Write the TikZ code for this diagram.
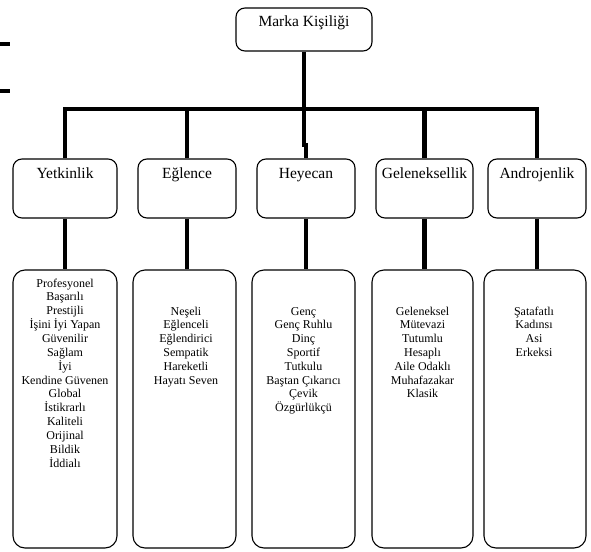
\documentclass[tikz,border=0pt]{standalone}
\usepackage{fontspec}
\setmainfont{Liberation Serif}
\begin{document}
\begin{tikzpicture}[x=1pt,y=-1pt,
  conn/.style={line width=4.3pt},
  box/.style={draw, line width=1.1pt, rounded corners=9pt, inner sep=0pt},
  bigbox/.style={box, rounded corners=12pt},
  lbl/.style={font=\fontsize{15.5}{18}\selectfont, anchor=base, inner sep=0pt},
  lst/.style={font=\fontsize{12}{13.8}\selectfont, anchor=base, inner sep=0pt}]
\useasboundingbox (0,0) rectangle (591,551);

% left dashes
\coordinate (d1a) at (0,44); \coordinate (d1b) at (10,44);
\coordinate (d2a) at (0,91); \coordinate (d2b) at (10,91);
\draw[line width=4pt] (d1a) -- (d1b);
\draw[line width=4pt] (d2a) -- (d2b);

% boxes
\node[box, minimum width=136pt, minimum height=43pt] (top) at (304,29.5) {};
\node[box, minimum width=104pt, minimum height=59pt] (yet1) at (65,188.5) {};
\node[box, minimum width=98pt, minimum height=59pt] (egl1) at (187,188.5) {};
\node[box, minimum width=98pt, minimum height=59pt] (hey1) at (306,188.5) {};
\node[box, minimum width=97pt, minimum height=59pt] (gel1) at (424.5,188.5) {};
\node[box, minimum width=98pt, minimum height=59pt] (and1) at (537,188.5) {};

\node[bigbox, minimum width=104pt, minimum height=278pt] (yet2) at (65,409) {};
\node[bigbox, minimum width=103pt, minimum height=278pt] (egl2) at (184.5,409) {};
\node[bigbox, minimum width=103pt, minimum height=278pt] (hey2) at (303.5,409) {};
\node[bigbox, minimum width=101pt, minimum height=278pt] (gel2) at (422.5,409) {};
\node[bigbox, minimum width=102pt, minimum height=278pt] (and2) at (535,409) {};

% connectors
\coordinate (bar) at (304,109);
\coordinate (jog1) at (304,145);
\coordinate (jog2) at (306,145);
\draw[conn] (top.south) -- (bar);
\draw[conn] (yet1.north) -- (yet1.north |- bar) -- (and1.north |- bar) -- (and1.north);
\draw[conn] (egl1.north) -- (egl1.north |- bar);
\draw[conn] (gel1.north) -- (gel1.north |- bar);
\draw[conn] (bar) -- (jog1) -- (jog2) -- (hey1.north);

\draw[conn] (yet1.south) -- (yet1.south |- yet2.north);
\draw[conn] (egl1.south) -- (egl1.south |- egl2.north);
\draw[conn] (hey1.south) -- (hey1.south |- hey2.north);
\draw[conn] (gel1.south) -- (gel1.south |- gel2.north);
\draw[conn] (and1.south) -- (and1.south |- and2.north);

% labels
\node[lbl] (ttop) at (304,27) {Marka Kişiliği};
\node[lbl] (tyet) at (65,178) {Yetkinlik};
\node[lbl] (tegl) at (187,178) {Eğlence};
\node[lbl] (they) at (306,178) {Heyecan};
\node[lbl] (tgel) at (424.5,178) {Geleneksellik};
\node[lbl] (tand) at (537,178) {Androjenlik};

\node[lst] (lyet) at (65,287) {\begin{tabular}[t]{@{}c@{}}Profesyonel\\Başarılı\\Prestijli\\İşini İyi Yapan\\Güvenilir\\Sağlam\\İyi\\Kendine Güvenen\\Global\\İstikrarlı\\Kaliteli\\Orijinal\\Bildik\\İddialı\end{tabular}};
\node[lst] (legl) at (186,315) {\begin{tabular}[t]{@{}c@{}}Neşeli\\Eğlenceli\\Eğlendirici\\Sempatik\\Hareketli\\Hayatı Seven\end{tabular}};
\node[lst] (lhey) at (303.5,315) {\begin{tabular}[t]{@{}c@{}}Genç\\Genç Ruhlu\\Dinç\\Sportif\\Tutkulu\\Baştan Çıkarıcı\\Çevik\\Özgürlükçü\end{tabular}};
\node[lst] (lgel) at (422.5,315) {\begin{tabular}[t]{@{}c@{}}Geleneksel\\Mütevazi\\Tutumlu\\Hesaplı\\Aile Odaklı\\Muhafazakar\\Klasik\end{tabular}};
\node[lst] (land) at (534,315) {\begin{tabular}[t]{@{}c@{}}Şatafatlı\\Kadınsı\\Asi\\Erkeksi\end{tabular}};
\end{tikzpicture}
\end{document}
